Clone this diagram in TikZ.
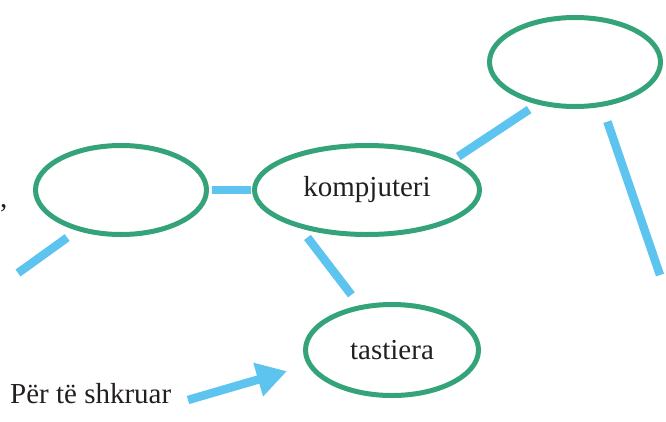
\documentclass[tikz,border=0pt]{standalone}
\usepackage{fontspec}
\setmainfont{Liberation Serif}
\usetikzlibrary{shapes.geometric, arrows.meta}
\definecolor{ringgreen}{RGB}{53,163,122}
\definecolor{barblue}{RGB}{93,196,240}
\definecolor{inkgray}{RGB}{35,31,32}
\tikzstyle{bubble}=[ellipse, draw=ringgreen, line width=5pt, inner sep=0pt, outer sep=0pt, text=inkgray, font=\fontsize{29}{34}\selectfont]
\tikzstyle{bar}=[draw=barblue, line width=8.5pt]
\tikzstyle{pointer}=[draw=barblue, line width=8.5pt, -{Triangle[length=30pt, width=33pt]}]
\tikzstyle{caption}=[text=inkgray, font=\fontsize{29}{34}\selectfont, inner sep=0pt]

\begin{document}
\begin{tikzpicture}[x=1pt, y=-1pt]
			\useasboundingbox (0,0) rectangle (666,421);
			\node[bubble, minimum width=171pt, minimum height=89pt] (hint) at (121,190) {};
			\node[bubble, minimum width=225pt, minimum height=89pt] (komp) at (367,190) {kompjuteri};
			\node[bubble, minimum width=171pt, minimum height=89pt] (blank) at (575,62) {};
			\node[bubble, minimum width=173pt, minimum height=91pt] (tast) at (392,350) {tastiera};
			\node[caption, anchor=base west] (purpose) at (10,403) {Për të shkruar};
			\node[caption, anchor=base west] (comma) at (0,207) {,};
			\coordinate (leftend) at (18,273);
			\coordinate (rightend) at (660,275);
			\coordinate (arrowstart) at (188,400);
			\draw[bar, shorten <=5pt, shorten >=4pt] (hint.0) -- (komp.180);
			\draw[bar, shorten <=15pt] (hint.223.2) -- (leftend);
			\draw[bar, shorten <=7.7pt, shorten >=12.8pt] (komp.19.4) -- (blank.229.3);
			\draw[bar, shorten <=18.3pt] (blank.302.4) -- (rightend);
			\draw[bar, shorten <=15.5pt, shorten >=16pt] (komp.207.2) -- (tast.126.3);
			\draw[pointer, shorten >=24pt] (arrowstart) -- (tast.190.7);
		\end{tikzpicture}
\end{document}
